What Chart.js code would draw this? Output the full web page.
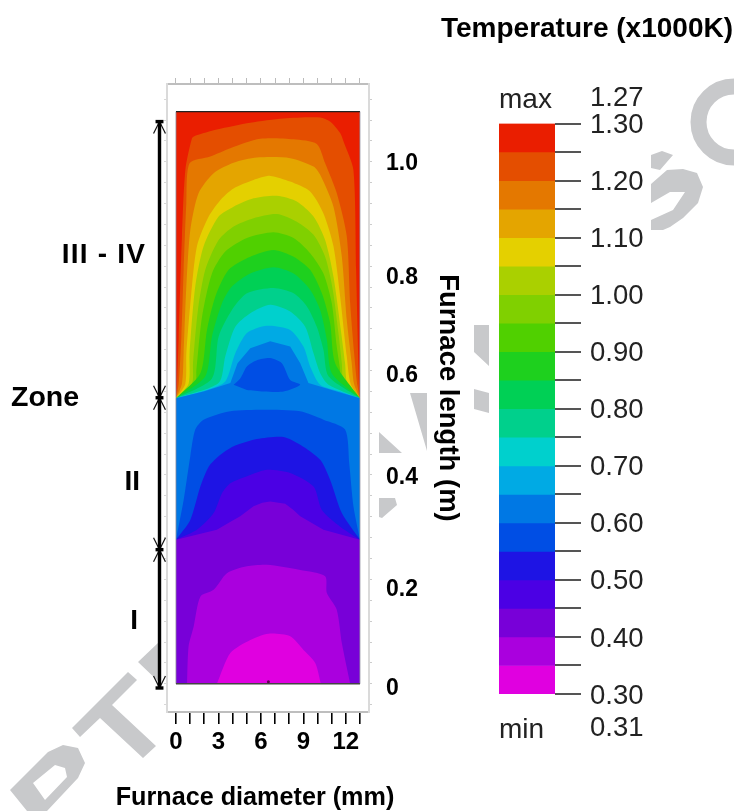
<!DOCTYPE html>
<html>
<head>
<meta charset="utf-8">
<title>Furnace temperature</title>
<script src="https://cdn.jsdelivr.net/npm/chart.js@4/dist/chart.umd.min.js"></script>
<style>
  html, body { margin: 0; padding: 0; background: #fff; }
  #wrap { position: relative; width: 735px; height: 811px; overflow: hidden; }
  canvas { position: absolute; left: 0; top: 0; }
</style>
</head>
<body>
<div id="wrap">
  <canvas id="field" width="735" height="811"></canvas>
  <canvas id="scale" width="735" height="811"></canvas>
</div>
<script>
// contour edges, [diameter mm, length m]
var cL = [0, 0.547], cR = [13, 0.547];    // corners at top of zone II
var dL = [0, 0.276], dR = [13, 0.276];    // corners at top of zone I

var c125 = [[0,1.096],[13,1.096],[13,0.547],[0,0.547]];
var c120 = [cL,[0.07,0.575],[0.19,0.665],[0.42,0.857],[0.66,0.984],[1.13,1.045],[1.36,1.05],[2.89,1.062],[5.25,1.075],[7.6,1.083],[10.19,1.085],[10.89,1.077],[11.6,1.055],[11.84,1.039],[12.54,0.984],[12.73,0.793],[12.93,0.575],cR];
var c115 = [cL,[0.19,0.575],[0.38,0.665],[0.54,0.793],[0.73,0.921],[0.96,0.997],[2.42,1.01],[3.84,1.026],[5.95,1.044],[8.31,1.043],[9.95,1.034],[10.54,0.997],[11.36,0.94],[12.07,0.857],[12.31,0.729],[12.59,0.633],[12.8,0.575],cR];
var c110 = [cL,[0.42,0.575],[0.54,0.633],[0.73,0.761],[1.01,0.869],[1.6,0.94],[2.66,0.978],[4.07,0.998],[5.72,1.008],[8.07,1.007],[9.72,0.991],[10.19,0.975],[11.13,0.914],[11.72,0.818],[12.07,0.697],[12.42,0.614],[12.58,0.575],cR];
var c105 = [cL,[0.66,0.575],[0.73,0.633],[1.06,0.742],[1.48,0.838],[2.31,0.895],[3.25,0.93],[4.07,0.949],[5.48,0.965],[6.66,0.973],[8.07,0.962],[9.48,0.943],[10.42,0.901],[11.13,0.838],[11.6,0.742],[12.07,0.627],[12.34,0.575],cR];
var c100 = [cL,[0.89,0.575],[0.96,0.633],[1.36,0.761],[1.95,0.838],[3.01,0.895],[4.07,0.914],[5.48,0.93],[7.13,0.935],[8.54,0.924],[9.72,0.895],[10.54,0.85],[11.13,0.78],[11.65,0.678],[11.95,0.614],[12.11,0.575],cR];
var c095 = [cL,[1.13,0.575],[1.2,0.614],[1.55,0.716],[2.07,0.793],[3.01,0.85],[4.07,0.876],[5.48,0.892],[7.13,0.9],[8.54,0.885],[9.72,0.86],[10.54,0.818],[11.08,0.755],[11.48,0.672],[11.72,0.614],[11.87,0.575],cR];
var c090 = [cL,[1.36,0.575],[1.44,0.601],[1.84,0.703],[2.54,0.786],[3.48,0.828],[5.01,0.854],[6.89,0.865],[8.31,0.854],[9.48,0.825],[10.42,0.786],[11.01,0.729],[11.36,0.646],[11.6,0.601],[11.64,0.575],cR];
var c085 = [cL,[1.72,0.595],[2.19,0.678],[2.78,0.742],[3.72,0.793],[5.25,0.818],[6.89,0.831],[8.31,0.818],[9.48,0.793],[10.31,0.748],[10.89,0.691],[11.25,0.614],cR];
var c080 = [cL,[2.07,0.589],[2.54,0.665],[3.25,0.729],[3.95,0.761],[5.25,0.786],[6.89,0.798],[8.31,0.786],[9.48,0.755],[10.19,0.716],[10.66,0.659],[11.01,0.595],cR];
var c075 = [cL,[2.54,0.585],[3.01,0.665],[3.95,0.716],[5.01,0.748],[6.89,0.758],[8.31,0.748],[9.25,0.723],[9.95,0.684],[10.42,0.64],[10.78,0.589],cR];
var c070 = [cL,[3.01,0.576],[3.48,0.627],[4.19,0.684],[5.25,0.71],[6.66,0.726],[8.07,0.713],[9.13,0.684],[9.72,0.633],[10.19,0.595],[10.78,0.573],cR];
var c065 = [cL,[2.19,0.563],[3.48,0.579],[4.19,0.633],[5.01,0.672],[6.42,0.686],[8.07,0.678],[9.01,0.646],[9.48,0.608],[10.19,0.573],[11.6,0.56],cR];
var c060 = [cL,[1.95,0.56],[3.84,0.576],[4.35,0.614],[5.25,0.643],[6.66,0.656],[8.07,0.646],[8.78,0.614],[9.36,0.576],[11.36,0.56],cR,dR,dL];
var c055a = [[4.07,0.573],[4.54,0.585],[5.01,0.608],[5.72,0.62],[6.66,0.624],[7.48,0.614],[8.07,0.582],[8.78,0.573],[7.6,0.56],[6.19,0.56],[5.01,0.563]];
var c055b = [dL,[0.54,0.352],[1.01,0.436],[1.36,0.487],[1.95,0.506],[3.84,0.522],[6.19,0.525],[8.78,0.522],[10.42,0.506],[11.95,0.487],[12.24,0.423],[12.54,0.34],dR];
var c050 = [dL,[1.01,0.314],[1.72,0.378],[2.31,0.416],[3.01,0.436],[4.07,0.455],[5.72,0.469],[7.6,0.473],[8.78,0.458],[10.19,0.429],[10.89,0.391],[11.72,0.327],dR];
var c045 = [dL,[1.48,0.295],[2.66,0.327],[3.25,0.365],[3.84,0.384],[5.25,0.4],[6.42,0.41],[8.07,0.404],[9.72,0.378],[10.31,0.333],[11.6,0.301],dR];
var c040 = [dL,[2.89,0.295],[3.7,0.308],[4.54,0.321],[5.48,0.34],[6.1,0.347],[6.66,0.349],[7.72,0.345],[8.3,0.333],[8.78,0.321],[10.42,0.295],dR,[13,0],[0,0]];
var c035 = [[0.78,0],[0.89,0.072],[1.25,0.11],[1.72,0.167],[2.66,0.18],[3.6,0.212],[5.01,0.225],[6.42,0.228],[8.78,0.218],[10.54,0.206],[10.66,0.174],[11.36,0.142],[11.72,0.078],[12.31,0]];
var c030 = [[2.89,0],[3.84,0.059],[5.25,0.084],[6.54,0.096],[8.07,0.091],[9.01,0.065],[9.84,0.04],[10.24,0]];

// colour bar, top band first
var bandColors = ['#EA1E00','#E44E00','#E47800','#E4A500','#E4D000','#AAD000','#80D000','#50D000','#1ED01E','#00D055','#00D08C','#00D0CD','#00AAE4','#0078E4','#004EE4','#1E14E4','#4B00E4','#7800D8','#AA00DE','#E000E0'];
var bandEdges = [1.30,1.25,1.20,1.15,1.10,1.05,1.00,0.95,0.90,0.85,0.80,0.75,0.70,0.65,0.60,0.55,0.50,0.45,0.40,0.35,0.30];
var tempTicks = [0.30,0.35,0.40,0.45,0.50,0.55,0.60,0.65,0.70,0.75,0.80,0.85,0.90,0.95,1.00,1.05,1.10,1.15,1.20,1.25,1.30];
var tempLabels = ['0.30','','0.40','','0.50','','0.60','','0.70','','0.80','','0.90','','1.00','','1.10','','1.20','','1.30'];

// axes
var xTicks = [0,1,2,3,4,5,6,7,8,9,10,11,12,13];
var xLabels = {0:'0',3:'3',6:'6',9:'9',12:'12'};
var yTicks = [-0.04,0,0.04,0.08,0.12,0.16,0.2,0.24,0.28,0.32,0.36,0.4,0.44,0.48,0.52,0.56,0.6,0.64,0.68,0.72,0.76,0.8,0.84,0.88,0.92,0.96,1,1.04,1.08,1.12];
var yLabels = ['0','0.2','0.4','0.6','0.8','1.0'];
var yLabelAt = [-0.006,0.185,0.399,0.595,0.781,1.0];   // labels sit a little off their ticks in the original

// zones
var zoneEdges = [-0.008,0.257,0.548,1.077];
var zoneX = -1.166;

var band = [
  [c125,0], [c120,1], [c115,2], [c110,3], [c105,4], [c100,5], [c095,6], [c090,7], [c085,8], [c080,9],
  [c075,10], [c070,11], [c065,12], [c060,13], [c055a,14], [c055b,14], [c050,15], [c045,16], [c040,17], [c035,18], [c030,19]
];

Chart.defaults.font.family = '"Liberation Sans", Arial, sans-serif';
Chart.defaults.color = '#000';

var datasets = [];
band.forEach(function(b, i){
  var square = b[0] === c125 || b[0] === c060 || b[0] === c040;
  datasets.push({
    type: 'scatter', data: b[0], showLine: true, fill: 'shape', tension: square ? 0 : 0.25,
    backgroundColor: bandColors[b[1]], borderColor: bandColors[b[1]], borderWidth: 0,
    pointRadius: 0, order: 100 - i
  });
});

function stroke(pts, color, width){
  return { type: 'scatter', data: pts, showLine: true, fill: false, borderColor: color, borderWidth: width,
           pointRadius: 0, clip: false, order: 1 };
}
datasets.push(stroke([[0,1.096],[13,1.096]], '#222', 1.2));
datasets.push(stroke([[0,0],[13,0]], '#444', 1.4));
datasets.push(stroke([[0,0],[0,1.096]], '#8a8a9a', 0.8));
datasets.push(stroke([[13,0],[13,1.096]], '#8a8a9a', 0.8));

// zone arrow with its end caps and heads, each limb its own line since
// points left of the x range get dropped from longer lines
function head(e, dy){
  datasets.push(stroke([[zoneX-0.42,e+dy],[zoneX,e]], '#111', 1.2));
  datasets.push(stroke([[zoneX,e],[zoneX+0.42,e+dy]], '#111', 1.2));
}
datasets.push(stroke([[zoneX,zoneEdges[0]],[zoneX,zoneEdges[3]]], '#000', 3.4));
zoneEdges.forEach(function(e, i){
  datasets.push(stroke([[zoneX-0.28,e],[zoneX+0.28,e]], '#000', 3.4));
  if(i < 3) head(e, 0.023);
  if(i > 0) head(e, -0.023);
});

// small mark on the bottom edge
datasets.push({ type:'scatter', data:[[6.53,0.004]], pointRadius:1.5, backgroundColor:'#600050', borderWidth:0, order:0 });

function poly(ctx, pts){
  ctx.moveTo(pts[0][0], pts[0][1]);
  for(var i = 1; i < pts.length; i++) ctx.lineTo(pts[i][0], pts[i][1]);
  ctx.closePath();
}

// grey watermark pieces showing through the figure
var watermark = {
  id: 'watermark',
  beforeDraw: function(chart){
    var ctx = chart.ctx;
    ctx.save();
    ctx.fillStyle = '#C8C9CB';
    ctx.beginPath();
    poly(ctx, [[474,325],[489,325],[489,366],[474,352]]);
    poly(ctx, [[474,389],[489,393],[489,413],[474,409]]);
    poly(ctx, [[410,393],[427,393],[427,451]]);
    poly(ctx, [[379,432],[402,453],[379,453]]);
    poly(ctx, [[379,498],[395,498],[397,505],[382,518],[379,517]]);
    poly(ctx, [[72,728],[128,672],[137,680],[112,705],[156,746],[143,758],[100,718],[80,737]]);
    poly(ctx, [[138,662],[159,642],[160,683]]);
    poly(ctx, [[651,155],[662,151],[673,155],[660,170],[651,168]]);
    poly(ctx, [[651,184],[667,170],[683,169],[697,173],[703,187],[698,203],[683,218],[670,227],[663,230],[651,230],[651,220],[673,210],[685,192],[670,192],[651,203]]);
    ctx.fill();

    ctx.beginPath();
    poly(ctx, [[10,790],[48,752],[63,745],[78,748],[85,763],[78,778],[47,811],[27,811]]);
    poly(ctx, [[33,783],[55,765],[65,768],[67,777],[45,800]]);
    ctx.fill('evenodd');

    ctx.beginPath();
    ctx.arc(734, 122, 35.5, Math.PI * 0.5, Math.PI * 1.5);
    ctx.lineWidth = 16;
    ctx.strokeStyle = '#C8C9CB';
    ctx.stroke();
    ctx.restore();
  }
};

// free standing texts, placed in data units
var fieldTexts = {
  id: 'fieldTexts',
  afterDraw: function(chart){
    var ctx = chart.ctx, sx = chart.scales.x, sy = chart.scales.y;
    ctx.save();
    ctx.font = 'bold 28px "Liberation Sans", Arial, sans-serif';
    ctx.fillStyle = '#000';
    ctx.textBaseline = 'middle';
    ctx.textAlign = 'right';
    ctx.letterSpacing = '1.2px';
    ctx.fillText('III - IV', sx.getPixelForValue(-2.12), sy.getPixelForValue(0.82));
    ctx.letterSpacing = '0px';
    ctx.fillText('II', sx.getPixelForValue(-2.54), sy.getPixelForValue(0.387));
    ctx.fillText('I', sx.getPixelForValue(-2.69), sy.getPixelForValue(0.12));
    ctx.font = 'bold 28.5px "Liberation Sans", Arial, sans-serif';
    ctx.fillText('Zone', sx.getPixelForValue(-6.85), sy.getPixelForValue(0.548));
    ctx.textAlign = 'center';
    ctx.font = 'bold 25.2px "Liberation Sans", Arial, sans-serif';
    ctx.fillText('Furnace diameter (mm)', 255, 798);
    ctx.restore();
  }
};

new Chart(document.getElementById('field'), {
  type: 'scatter',
  data: { datasets: datasets },
  plugins: [watermark, fieldTexts],
  options: {
    responsive: false,
    animation: false,
    layout: { padding: { left: 162, top: 77, right: 271, bottom: 0 } },
    plugins: { legend: { display: false }, tooltip: { enabled: false } },
    scales: {
      x: {
        type: 'linear', position: 'bottom', min: -0.636, max: 13.64,
        afterBuildTicks: function(s){ s.ticks = xTicks.map(function(v){ return { value: v }; }); },
        afterFit: function(s){ s.height = 99; },
        border: { color: '#BEBEBE', width: 2 },
        grid: { drawOnChartArea: false, color: '#000', lineWidth: 1.6, tickLength: 12 },
        ticks: {
          autoSkip: false, maxRotation: 0, padding: 4, color: '#000',
          font: { size: 24, weight: 'bold' },
          callback: function(v){ return xLabels[v] || ''; }
        }
      },
      xTop: {
        type: 'linear', position: 'top', min: -0.636, max: 13.64,
        afterBuildTicks: function(s){ s.ticks = xTicks.map(function(v){ return { value: v }; }); },
        afterFit: function(s){ s.height = 7; },
        border: { color: '#BEBEBE', width: 2 },
        grid: { drawOnChartArea: false, color: '#BBB', lineWidth: 1, tickLength: 6 },
        ticks: { display: false }
      },
      y: {
        type: 'linear', position: 'right', min: -0.054, max: 1.149,
        afterBuildTicks: function(s){ s.ticks = yTicks.map(function(v){ return { value: v }; }); },
        afterFit: function(s){ s.width = 6; },
        border: { color: '#DADADA', width: 2 },
        grid: { drawOnChartArea: false, color: '#CCC', lineWidth: 1, tickLength: 3 },
        ticks: { display: false }
      },
      yLeft: {
        type: 'linear', position: 'left', min: -0.054, max: 1.149,
        afterBuildTicks: function(s){ s.ticks = yTicks.map(function(v){ return { value: v }; }); },
        afterFit: function(s){ s.width = 5; },
        border: { color: '#DADADA', width: 2 },
        grid: { drawOnChartArea: false, color: '#D8D8D8', lineWidth: 1, tickLength: 3 },
        ticks: { display: false }
      },
      yText: {
        type: 'linear', position: 'right', min: -0.054, max: 1.149,
        afterBuildTicks: function(s){ s.ticks = yLabelAt.map(function(v){ return { value: v }; }); },
        afterFit: function(s){ s.width = 89; },
        border: { display: false },
        grid: { display: false, drawTicks: false, tickLength: 0 },
        ticks: {
          autoSkip: false, padding: 11, color: '#000', align: 'center', crossAlign: 'near', labelOffset: 2,
          font: { size: 23, weight: 'bold' },
          callback: function(v, i){ return yLabels[i]; }
        },
        title: { display: true, text: 'Furnace length (m)', color: '#000', font: { size: 27.5, weight: 'bold' }, padding: { top: 0, bottom: 0 } }
      }
    }
  }
});

// colour bar
var barSets = bandColors.map(function(c, i){
  return { data: [[bandEdges[i+1], bandEdges[i]]], backgroundColor: c, borderWidth: 0, grouped: false, barPercentage: 1, categoryPercentage: 1 };
});

var scaleTexts = {
  id: 'scaleTexts',
  afterDraw: function(chart){
    var ctx = chart.ctx, sy = chart.scales.y, left = chart.chartArea.left;
    ctx.save();
    ctx.fillStyle = '#000';
    ctx.textBaseline = 'middle';
    ctx.textAlign = 'right';
    ctx.font = 'bold 28px "Liberation Sans", Arial, sans-serif';
    ctx.fillText('Temperature (x1000K)', 733, 29);
    ctx.textAlign = 'left';
    ctx.fillStyle = '#222';
    ctx.font = '28px "Liberation Sans", Arial, sans-serif';
    ctx.fillText('max', left, sy.getPixelForValue(1.341));
    ctx.fillText('min', left, sy.getPixelForValue(0.236));
    ctx.font = '27.5px "Liberation Sans", Arial, sans-serif';
    ctx.fillText('1.27', 590, sy.getPixelForValue(1.344));
    ctx.fillText('0.31', 590, sy.getPixelForValue(0.24));
    ctx.restore();
  }
};

new Chart(document.getElementById('scale'), {
  type: 'bar',
  data: { labels: ['T'], datasets: barSets },
  plugins: [scaleTexts],
  options: {
    responsive: false,
    animation: false,
    layout: { padding: { left: 499, top: 123.5, right: 30, bottom: 117 } },
    plugins: { legend: { display: false }, tooltip: { enabled: false } },
    scales: {
      x: { display: false },
      y: {
        position: 'right', min: 0.30, max: 1.30,
        afterBuildTicks: function(s){ s.ticks = tempTicks.map(function(v){ return { value: v }; }); },
        afterFit: function(s){ s.width = 150; },
        border: { display: false },
        grid: { drawOnChartArea: false, color: '#555', lineWidth: 2, tickLength: 26 },
        ticks: {
          autoSkip: false, padding: 9, color: '#222', crossAlign: 'near', labelOffset: 2,
          font: { size: 27.5 },
          callback: function(v, i){ return tempLabels[i]; }
        }
      }
    }
  }
});
</script>
</body>
</html>
